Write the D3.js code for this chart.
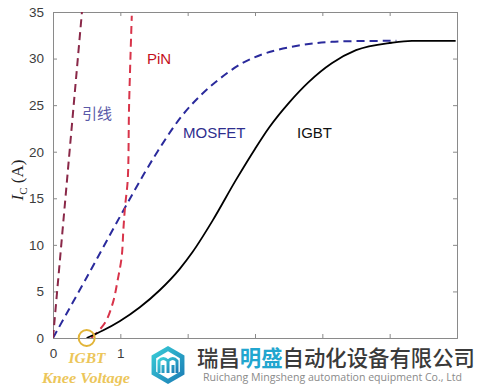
<!DOCTYPE html>
<html><head><meta charset="utf-8">
<script src="https://cdn.jsdelivr.net/npm/d3@7"></script>
<style>html,body{margin:0;padding:0;background:#fff;}svg{display:block;}</style>
</head><body>
<svg id="c" width="477" height="386"></svg>
<script>
// ---- data ----
const xDomain = [0, 6];
const yDomain = [0, 35];
const yTicks = [0, 5, 10, 15, 20, 25, 30, 35];
const xTicks = [0, 1, 2, 3, 4, 5, 6];
const xTickLabels = ["0", "1", "", "", "", "", ""];

const leadX = [0, 0.43];
const leadY = [0, 35];

const pinX = [0.57, 0.77, 0.89, 0.96, 1.02, 1.045, 1.07, 1.11, 1.13, 1.17];
const pinY = [0, 1.6, 3.8, 6.2, 8.7, 11.6, 14.1, 17.0, 25.0, 34.6];

const mosX = [0, 0.50, 1.00, 1.35, 1.63, 1.92, 2.20, 2.47, 2.81, 3.17, 3.65, 4.14, 5.10];
const mosY = [0, 6.5, 13.1, 17.6, 20.9, 23.9, 26.1, 27.8, 29.5, 30.6, 31.4, 31.8, 31.9];

const igbtX = [0.50, 0.74, 0.99, 1.29, 1.58, 1.88, 2.07, 2.37, 2.72, 3.00, 3.21, 3.51, 3.80, 4.14, 4.50, 5.03, 5.33, 5.98];
const igbtY = [0, 0.8, 1.8, 3.3, 5.1, 7.4, 9.2, 12.6, 17.0, 20.3, 22.6, 25.3, 27.5, 29.5, 30.9, 31.7, 31.9, 31.9];

const kneeX = 0.5;
const labels = ["引线", "PiN", "MOSFET", "IGBT"];

// ---- layout ----
const svg = d3.select("#c");
const L = 53, R = 457, T = 12, B = 338;
const x = d3.scaleLinear().domain(xDomain).range([L, R]);
const y = d3.scaleLinear().domain(yDomain).range([B, T]);
const axisColor = "#8a8a8a";
const tickFont = "Liberation Sans, Arial, sans-serif";

svg.append("defs").append("clipPath").attr("id", "clip")
  .append("rect").attr("x", L).attr("y", T).attr("width", R - L).attr("height", B - T);

// axes
const gl = svg.append("g").attr("transform", `translate(${L},0)`)
  .call(d3.axisLeft(y).tickValues(yTicks).tickSize(-4).tickPadding(9).tickFormat(d3.format("d")));
const gr = svg.append("g").attr("transform", `translate(${R},0)`)
  .call(d3.axisRight(y).tickValues(yTicks).tickSize(-4).tickFormat(""));
const gb = svg.append("g").attr("transform", `translate(0,${B})`)
  .call(d3.axisBottom(x).tickValues(xTicks).tickSize(-4).tickPadding(10).tickFormat((d, i) => xTickLabels[i]));
const gt = svg.append("g").attr("transform", `translate(0,${T})`)
  .call(d3.axisTop(x).tickValues(xTicks).tickSize(-4).tickFormat(""));
[gl, gr, gb, gt].forEach(g => {
  g.selectAll(".domain").attr("stroke", axisColor).attr("stroke-width", 1);
  g.selectAll(".tick line").attr("stroke", axisColor);
  g.selectAll(".tick text").attr("fill", "#3c3c3c").attr("font-size", 13.5).attr("font-family", tickFont);
});

// y label
const yl = svg.append("text").attr("transform", "translate(23,180) rotate(-90)")
  .attr("text-anchor", "middle").attr("font-family", "Liberation Serif, Times New Roman, serif")
  .attr("font-size", 17).attr("fill", "#222");
yl.append("tspan").attr("font-style", "italic").text("I");
yl.append("tspan").attr("font-size", 11).attr("dy", 4).text("C");
yl.append("tspan").attr("dy", -4).text(" (A)");

// lines
const plot = svg.append("g").attr("clip-path", "url(#clip)");
function draw(xs, ys, color, dash, width, curve) {
  const pts = xs.map((v, i) => [v, ys[i]]);
  plot.append("path").datum(pts)
    .attr("d", d3.line().x(d => x(d[0])).y(d => y(d[1])).curve(curve))
    .attr("fill", "none").attr("stroke", color).attr("stroke-width", width)
    .attr("stroke-dasharray", dash);
}
draw(mosX, mosY, "#2a2a9c", "8,5", 2, d3.curveCatmullRom.alpha(0.5));
draw(leadX, leadY, "#8a2848", "8,5", 2, d3.curveLinear);
draw(pinX, pinY, "#d8344a", "8,5", 2, d3.curveCatmullRom.alpha(0.5));
draw(igbtX, igbtY, "#000", null, 1.8, d3.curveMonotoneX);

// knee circle
svg.append("circle").attr("cx", x(kneeX)).attr("cy", B).attr("r", 8)
  .attr("fill", "none").attr("stroke", "#e2b437").attr("stroke-width", 2);

// curve labels
const lab = svg.append("g").attr("font-family", tickFont).attr("font-size", 15);
lab.append("text").attr("x", 82).attr("y", 119).attr("fill", "#5a5aa8").attr("font-family", "Noto Sans CJK SC, sans-serif").text(labels[0]);
lab.append("text").attr("x", 147).attr("y", 64).attr("fill", "#c4101c").text(labels[1]);
lab.append("text").attr("x", 183).attr("y", 138).attr("fill", "#2e2e8e").text(labels[2]);
lab.append("text").attr("x", 297).attr("y", 138).attr("fill", "#111").text(labels[3]);

// knee annotation
const kn = svg.append("g").attr("font-family", "Liberation Serif, Times New Roman, serif")
  .attr("font-style", "italic").attr("font-weight", "bold").attr("fill", "#ecc65a").attr("text-anchor", "middle");
kn.append("text").attr("x", 87).attr("y", 363).attr("font-size", 15.5).text("IGBT");
kn.append("text").attr("x", 86).attr("y", 383).attr("font-size", 15.5)
  .attr("textLength", 88).attr("lengthAdjust", "spacingAndGlyphs").text("Knee Voltage");

// watermark
const wm = svg.append("g");
const grad = svg.select("defs").append("linearGradient").attr("id", "lg")
  .attr("x1", "0").attr("y1", "0").attr("x2", "1").attr("y2", "1");
grad.append("stop").attr("offset", "0").attr("stop-color", "#39d0d8");
grad.append("stop").attr("offset", "1").attr("stop-color", "#1a78b4");
const cx = 168, cy = 365, r = 19;
const hex = d3.range(6).map(i => {
  const a = Math.PI / 3 * i + Math.PI / 6;
  return [cx + r * Math.cos(a), cy + r * Math.sin(a)];
});
wm.append("path").attr("d", "M" + hex.join("L") + "Z").attr("fill", "url(#lg)");
const hex2 = hex.map(p => [cx + (p[0] - cx) * 0.72, cy + (p[1] - cy) * 0.72]);
wm.append("path").attr("d", "M" + hex2.join("L") + "Z").attr("fill", "#fff");
wm.append("path").attr("d", `M${cx-9},${cy+8} L${cx-9},${cy-4} Q${cx-5},${cy-9} ${cx},${cy-4} Q${cx+5},${cy-9} ${cx+9},${cy-4} L${cx+9},${cy+8} M${cx},${cy-4} L${cx},${cy+8} M${cx-5},${cy} L${cx-5},${cy+8} M${cx+5},${cy} L${cx+5},${cy+8}`)
  .attr("fill", "none").attr("stroke", "url(#lg)").attr("stroke-width", 3);
const cn = wm.append("text").attr("x", 197).attr("y", 366).attr("font-size", 21.5)
  .attr("font-family", "Noto Sans CJK SC, sans-serif").attr("font-weight", "500").attr("fill", "#3a3a3a")
  .attr("textLength", 278).attr("lengthAdjust", "spacingAndGlyphs");
cn.append("tspan").text("瑞昌");
cn.append("tspan").attr("fill", "#22a6cf").attr("font-weight", "bold").text("明盛");
cn.append("tspan").text("自动化设备有限公司");
wm.append("text").attr("x", 203).attr("y", 381).attr("font-size", 10.5)
  .attr("font-family", "Open Sans, sans-serif").attr("fill", "#8a8a8a")
  .attr("textLength", 259).attr("lengthAdjust", "spacingAndGlyphs")
  .text("Ruichang Mingsheng automation equipment Co., Ltd");
</script>
</body></html>
